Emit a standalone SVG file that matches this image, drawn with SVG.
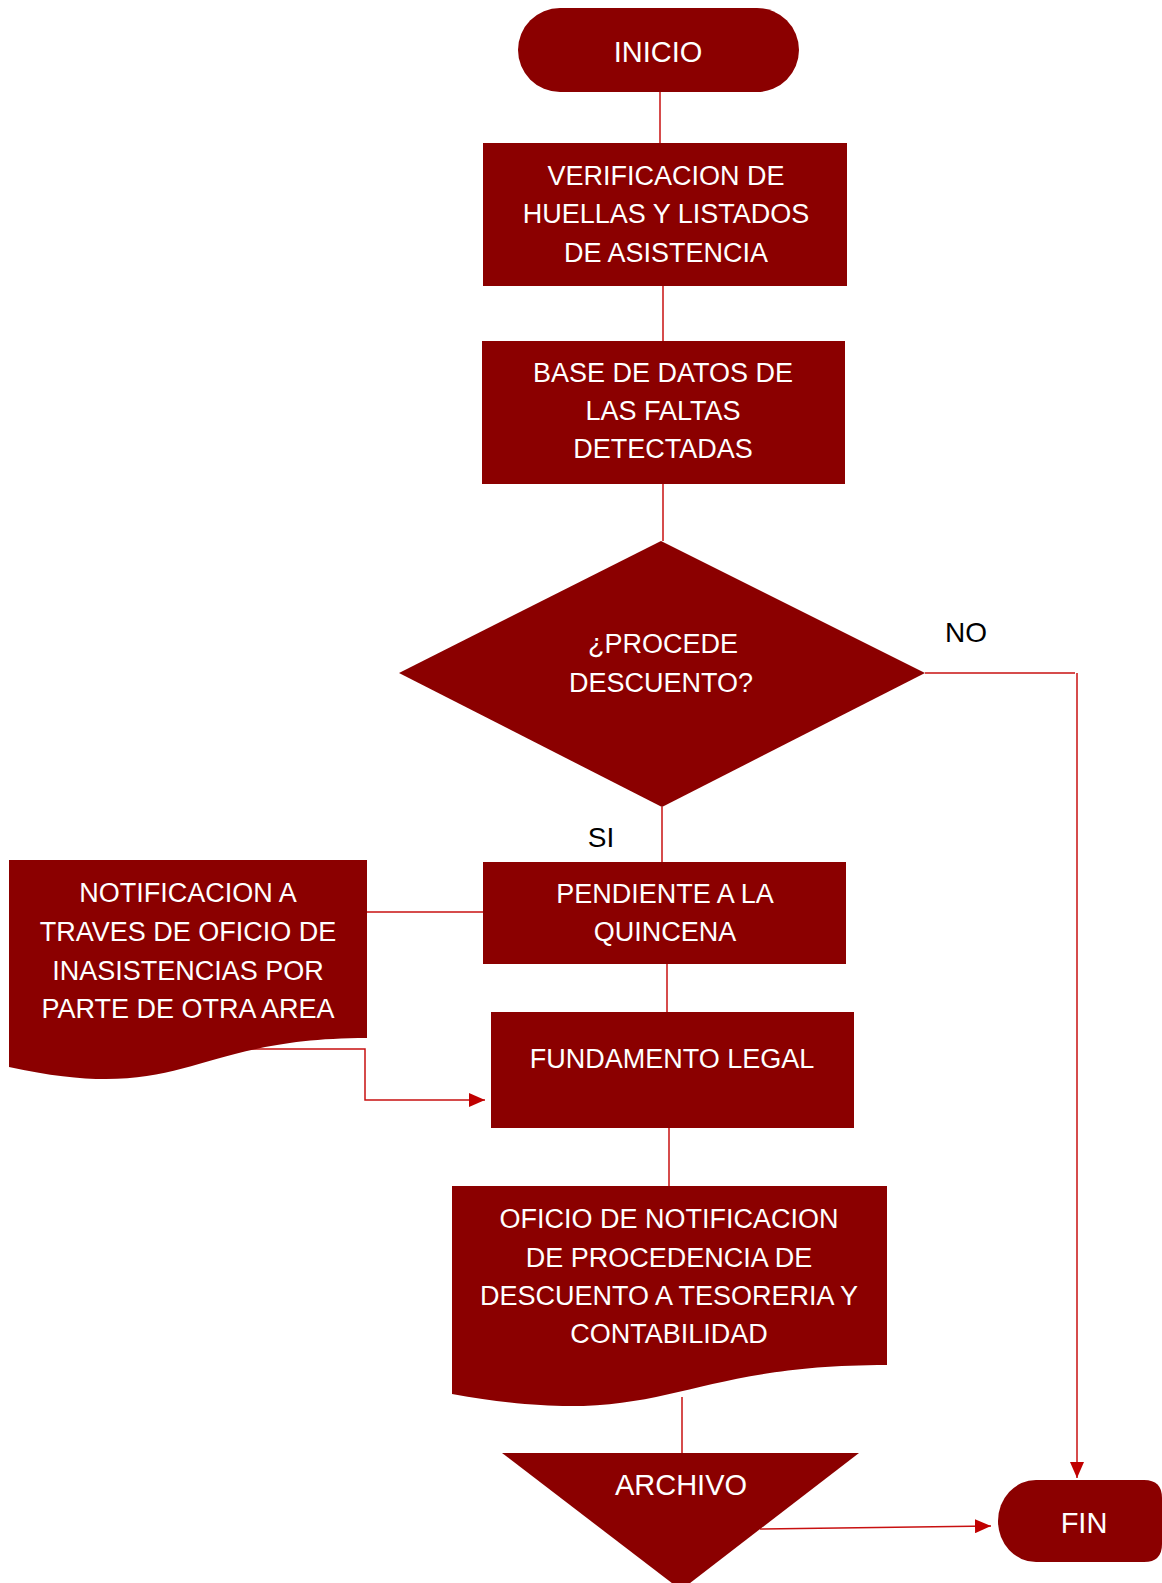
<svg xmlns="http://www.w3.org/2000/svg" width="1162" height="1583" viewBox="0 0 1162 1583">
  <style>
    .shape { fill: #8B0000; }
    .lbl { fill: #FFFFFF; font-family: "Liberation Sans", Arial, sans-serif; font-size: 27px; text-anchor: middle; }
    .big { font-size: 29px; }
    .edge-lbl { fill: #000000; font-family: "Liberation Sans", Arial, sans-serif; font-size: 28px; text-anchor: middle; }
    .wire { fill: none; stroke: #C81010; stroke-width: 1.5; }
  </style>
  <defs>
    <marker id="arrow" viewBox="0 0 16 14" refX="16" refY="7" markerWidth="16" markerHeight="14" markerUnits="userSpaceOnUse" orient="auto">
      <path d="M0,0 L16,7 L0,14 Z" fill="#C00000"/>
    </marker>
  </defs>

  <rect width="1162" height="1583" fill="#FFFFFF"/>

  <!-- connectors -->
  <g id="connectors">
    <path class="wire" d="M660,92 V143"/>
    <path class="wire" d="M663,286 V341"/>
    <path class="wire" d="M663,484 V541"/>
    <path class="wire" d="M662,807 V862"/>
    <path class="wire" d="M925,673 H1075"/>
    <path class="wire" d="M1077,673 V1478" marker-end="url(#arrow)"/>
    <path class="wire" d="M367,912 H483"/>
    <path class="wire" d="M243,1049 H365 V1100 H485" marker-end="url(#arrow)"/>
    <path class="wire" d="M667,964 V1012"/>
    <path class="wire" d="M669,1128 V1186"/>
    <path class="wire" d="M682,1397 V1453"/>
    <path class="wire" d="M760,1529 L991,1526" marker-end="url(#arrow)"/>
  </g>

  <!-- start terminal -->
  <g id="inicio">
    <rect class="shape" x="518" y="8" width="281" height="84" rx="42" ry="42"/>
    <text class="lbl big" x="658" y="62">INICIO</text>
  </g>

  <g id="verificacion">
    <rect class="shape" x="483" y="143" width="364" height="143"/>
    <text class="lbl" x="666" y="185">VERIFICACION DE</text>
    <text class="lbl" x="666" y="223">HUELLAS Y LISTADOS</text>
    <text class="lbl" x="666" y="262">DE ASISTENCIA</text>
  </g>

  <g id="base-datos">
    <rect class="shape" x="482" y="341" width="363" height="143"/>
    <text class="lbl" x="663" y="382">BASE DE DATOS DE</text>
    <text class="lbl" x="663" y="420">LAS FALTAS</text>
    <text class="lbl" x="663" y="458">DETECTADAS</text>
  </g>

  <!-- decision -->
  <g id="decision">
    <polygon class="shape" points="661,541 925,673 662,807 399,673"/>
    <text class="lbl" x="663" y="653">¿PROCEDE</text>
    <text class="lbl" x="661" y="692">DESCUENTO?</text>
  </g>

  <text class="edge-lbl" x="966" y="642">NO</text>
  <text class="edge-lbl" x="601" y="847">SI</text>

  <g id="notificacion">
    <path class="shape" d="M9,860 H367 V1038 C188,1038 188,1106 9,1067 Z"/>
    <text class="lbl" x="188" y="902">NOTIFICACION A</text>
    <text class="lbl" x="188" y="941">TRAVES DE OFICIO DE</text>
    <text class="lbl" x="188" y="980">INASISTENCIAS POR</text>
    <text class="lbl" x="188" y="1018">PARTE DE OTRA AREA</text>
  </g>

  <g id="pendiente">
    <rect class="shape" x="483" y="862" width="363" height="102"/>
    <text class="lbl" x="665" y="903">PENDIENTE A LA</text>
    <text class="lbl" x="665" y="941">QUINCENA</text>
  </g>

  <g id="fundamento">
    <rect class="shape" x="491" y="1012" width="363" height="116"/>
    <text class="lbl" x="672" y="1068">FUNDAMENTO LEGAL</text>
  </g>

  <g id="oficio">
    <path class="shape" d="M452,1186 H887 V1365 C669,1365 669,1433 452,1394 Z"/>
    <text class="lbl" x="669" y="1228">OFICIO DE NOTIFICACION</text>
    <text class="lbl" x="669" y="1267">DE PROCEDENCIA DE</text>
    <text class="lbl" x="669" y="1305">DESCUENTO A TESORERIA Y</text>
    <text class="lbl" x="669" y="1343">CONTABILIDAD</text>
  </g>

  <g id="archivo">
    <polygon class="shape" points="502,1453 859,1453 681,1590"/>
    <text class="lbl big" x="681" y="1495">ARCHIVO</text>
  </g>

  <!-- end terminal -->
  <g id="fin">
    <path class="shape" d="M1036,1480 H1144 Q1162,1480 1162,1498 V1544 Q1162,1562 1144,1562 H1036 A38,41 0 0 1 998,1521 A38,41 0 0 1 1036,1480 Z"/>
    <text class="lbl big" x="1084" y="1533">FIN</text>
  </g>
</svg>
